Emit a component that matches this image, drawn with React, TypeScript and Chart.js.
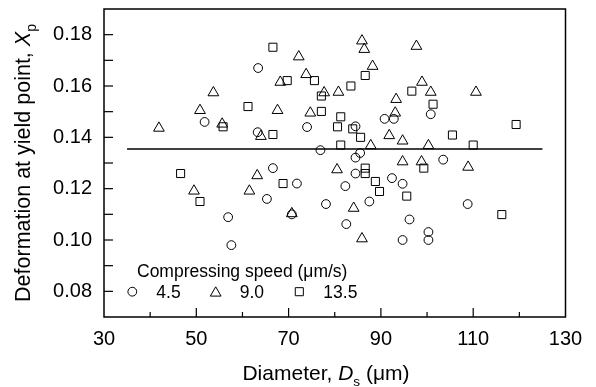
import React, { useEffect, useRef } from 'react';
import { Chart, registerables } from 'chart.js';
import { drawPoint } from 'chart.js/helpers';

Chart.register(...registerables);

// Compressing speed 4.5 µm/s (circles)
const circleD = [51.8, 63.4, 63.3, 74.0, 76.9, 84.5, 90.8, 92.8, 100.8, 85.5, 84.5, 103.5, 56.9, 57.6, 66.6, 65.3, 71.8, 70.7, 78.1, 84.5, 82.3, 92.4, 94.7, 87.5, 82.5, 96.2, 94.7, 100.3, 100.3, 108.8];
const circleXp = [0.146, 0.167, 0.142, 0.144, 0.135, 0.1443, 0.1472, 0.1472, 0.149, 0.1339, 0.1321, 0.1313, 0.1089, 0.098, 0.128, 0.116, 0.122, 0.110, 0.114, 0.1259, 0.121, 0.1241, 0.1219, 0.115, 0.1062, 0.108, 0.100, 0.1031, 0.100, 0.114];

// Compressing speed 9.0 µm/s (triangles)
const triangleD = [41.9, 50.8, 53.7, 55.6, 64.0, 68.2, 67.6, 72.2, 73.8, 74.7, 77.7, 85.9, 86.4, 88.2, 80.8, 97.7, 98.9, 100.8, 110.6, 93.3, 93.1, 91.8, 94.7, 87.8, 100.3, 49.5, 63.2, 61.5, 70.7, 80.5, 94.7, 98.8, 108.9, 84.1, 85.9];
const triangleXp = [0.1436, 0.1505, 0.1574, 0.1452, 0.1404, 0.1615, 0.1505, 0.1714, 0.1645, 0.1495, 0.1574, 0.1776, 0.1743, 0.1677, 0.1576, 0.1755, 0.1615, 0.1576, 0.1576, 0.1548, 0.1495, 0.1407, 0.1386, 0.1368, 0.1368, 0.1191, 0.1251, 0.1191, 0.1103, 0.1274, 0.1305, 0.1305, 0.1284, 0.1124, 0.1005];

// Compressing speed 13.5 µm/s (squares)
const squareD = [66.6, 69.7, 75.6, 77.1, 77.1, 61.2, 55.8, 66.6, 80.6, 86.6, 83.5, 96.7, 101.3, 81.3, 83.9, 85.6, 81.3, 105.5, 110.0, 119.3, 46.6, 50.8, 68.8, 86.6, 86.6, 88.8, 89.7, 95.6, 99.3, 116.2];
const squareXp = [0.1751, 0.1621, 0.1621, 0.1561, 0.1501, 0.152, 0.1441, 0.1411, 0.1441, 0.1641, 0.160, 0.158, 0.1529, 0.148, 0.1433, 0.140, 0.137, 0.1409, 0.137, 0.145, 0.1259, 0.115, 0.122, 0.128, 0.1259, 0.1228, 0.1189, 0.1171, 0.128, 0.1099];

// Mean line
const meanD = [35, 125];
const meanXp = [0.1355, 0.1355];

const legendTitle = 'Compressing speed (\u03bcm/s)';
const legendLabels = ['4.5', '9.0', '13.5'];
const xMajorTicks = [30, 50, 70, 90, 110, 130];
const yMajorTicks = [0.08, 0.10, 0.12, 0.14, 0.16, 0.18];

const FONT = '"Liberation Sans", Arial, sans-serif';

type Part = { text: string; italic?: boolean; sub?: boolean };

function drawRich(ctx: CanvasRenderingContext2D, parts: Part[], cx: number, baseline: number, size: number) {
  const fontOf = (p: Part) => `${p.italic ? 'italic ' : ''}${p.sub ? size * 0.65 : size}px ${FONT}`;
  let total = 0;
  const widths = parts.map((p) => {
    ctx.font = fontOf(p);
    const w = ctx.measureText(p.text).width;
    total += w;
    return w;
  });
  let x = cx - total / 2;
  ctx.textAlign = 'left';
  ctx.textBaseline = 'alphabetic';
  parts.forEach((p, i) => {
    ctx.font = fontOf(p);
    ctx.fillText(p.text, x, baseline + (p.sub ? size * 0.28 : 0));
    x += widths[i];
  });
}

const pointStyles = ['circle', 'triangle', 'rect'];
const pointRadii = [4.4, 6.2, 5.7];

const decorPlugin = {
  id: 'decor',
  afterDraw(chart: any) {
    const ctx: CanvasRenderingContext2D = chart.ctx;
    const { left, right, top, bottom } = chart.chartArea;
    ctx.save();
    ctx.strokeStyle = '#000';
    ctx.fillStyle = '#000';
    ctx.lineWidth = 1.5;
    ctx.strokeRect(left, top, right - left, bottom - top);

    // inward ticks
    ctx.lineWidth = 1.2;
    const xs = chart.scales.x;
    xs.ticks.forEach((t: any) => {
      if (t.value <= xs.min || t.value >= xs.max) return;
      const px = xs.getPixelForValue(t.value);
      const major = xMajorTicks.includes(Math.round(t.value));
      ctx.beginPath();
      ctx.moveTo(px, bottom);
      ctx.lineTo(px, bottom - (major ? 9 : 5));
      ctx.stroke();
    });
    const ys = chart.scales.y;
    ys.ticks.forEach((t: any) => {
      if (t.value <= ys.min + 1e-9 || t.value >= ys.max - 1e-9) return;
      const py = ys.getPixelForValue(t.value);
      ctx.beginPath();
      ctx.moveTo(left, py);
      ctx.lineTo(left + 9, py);
      ctx.stroke();
    });

    // axis titles
    drawRich(ctx, [
      { text: 'Diameter, ' },
      { text: 'D', italic: true },
      { text: 's', sub: true },
      { text: ' (\u03bcm)' },
    ], 326, 380, 21);

    ctx.save();
    ctx.translate(30, 163);
    ctx.rotate(-Math.PI / 2);
    drawRich(ctx, [
      { text: 'Deformation at yield point, ' },
      { text: 'X', italic: true },
      { text: 'p', sub: true },
    ], 0, 0, 21.5);
    ctx.restore();

    // legend
    ctx.font = `17.5px ${FONT}`;
    ctx.textAlign = 'left';
    ctx.textBaseline = 'alphabetic';
    ctx.fillText(legendTitle, 137, 277);
    const symX = [132.3, 215.7, 299.3];
    legendLabels.forEach((lab, i) => {
      ctx.save();
      ctx.strokeStyle = '#000';
      ctx.fillStyle = 'rgba(0,0,0,0)';
      ctx.lineWidth = 1;
      drawPoint(ctx, { pointStyle: pointStyles[i], radius: pointRadii[i], borderWidth: 1, rotation: 0 } as any, symX[i], i === 1 ? 293 : 291.7);
      ctx.restore();
      ctx.fillStyle = '#000';
      ctx.font = `17.5px ${FONT}`;
      ctx.fillText(lab, symX[i] + 24, 298);
    });
    ctx.restore();
  },
};

export default function App() {
  const ref = useRef<HTMLCanvasElement>(null);

  useEffect(() => {
    document.body.style.margin = '0';
    const canvas = ref.current!;
    const mk = (xs: number[], ys: number[]) => xs.map((x, i) => ({ x, y: ys[i] }));
    const pointDs = (label: string, xs: number[], ys: number[], i: number) => ({
      type: 'scatter' as const,
      label,
      data: mk(xs, ys),
      pointStyle: pointStyles[i],
      pointRadius: pointRadii[i],
      pointBorderWidth: 1,
      pointBorderColor: '#000',
      pointBackgroundColor: 'rgba(0,0,0,0)',
      showLine: false,
    });
    const chart = new Chart(canvas, {
      type: 'scatter',
      data: {
        datasets: [
          {
            type: 'line',
            label: 'mean',
            data: mk(meanD, meanXp),
            borderColor: '#000',
            borderWidth: 1.5,
            pointRadius: 0,
            fill: false,
          } as any,
          pointDs(legendLabels[0], circleD, circleXp, 0),
          pointDs(legendLabels[1], triangleD, triangleXp, 1),
          pointDs(legendLabels[2], squareD, squareXp, 2),
        ],
      },
      options: {
        responsive: false,
        animation: false,
        events: [],
        layout: { padding: { left: 0, right: 30.5, top: 9, bottom: 0 } },
        plugins: { legend: { display: false }, tooltip: { enabled: false }, title: { display: false } },
        scales: {
          x: {
            type: 'linear',
            min: 30,
            max: 130,
            grid: { display: false, drawTicks: false },
            border: { display: false },
            ticks: {
              stepSize: 10,
              padding: 10,
              color: '#000',
              font: { family: FONT, size: 20 },
              maxRotation: 0,
              autoSkip: false,
              callback: (v: any) => (xMajorTicks.includes(Math.round(Number(v))) ? String(Math.round(Number(v))) : ''),
            },
            afterFit: (s: any) => { s.height = 70; s.paddingLeft = 0; s.paddingRight = 0; },
          },
          y: {
            type: 'linear',
            min: 0.07,
            max: 0.19,
            grid: { display: false, drawTicks: false },
            border: { display: false },
            ticks: {
              stepSize: 0.01,
              padding: 12,
              color: '#000',
              font: { family: FONT, size: 20 },
              autoSkip: false,
              callback: (v: any) => {
                const n = Number(v);
                return yMajorTicks.some((m) => Math.abs(m - n) < 1e-6) ? n.toFixed(2) : '';
              },
            },
            afterFit: (s: any) => { s.width = 104; s.paddingTop = 0; s.paddingBottom = 0; },
          },
        },
      },
      plugins: [decorPlugin],
    });
    return () => chart.destroy();
  }, []);

  return (
    <div style={{ width: 596, height: 387, background: '#fff' }}>
      <canvas ref={ref} width={596} height={387} style={{ display: 'block' }} />
    </div>
  );
}
